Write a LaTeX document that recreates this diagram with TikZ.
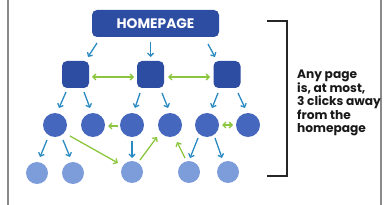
\documentclass[tikz,border=0pt]{standalone}
\usepackage{fontspec}
\setmainfont{Poppins}
\usetikzlibrary{arrows.meta,calc}
\definecolor{dblue}{HTML}{2C4DA2}
\definecolor{mblue}{HTML}{4567BD}
\definecolor{lblue}{HTML}{7C9CDA}
\definecolor{teal}{HTML}{2A8BC2}
\definecolor{lgreen}{HTML}{8CC63F}
\definecolor{bordergray}{HTML}{8A8A8A}
\tikzset{
  sq/.style={rectangle,rounded corners=5pt,fill=dblue,minimum size=27pt,inner sep=0pt},
  hpbox/.style={rectangle,rounded corners=5pt,fill=dblue,minimum width=127pt,minimum height=27pt,inner sep=0pt,text=white,font=\bfseries\fontsize{13.8}{16}\selectfont},
  cmid/.style={circle,fill=mblue,minimum size=24pt,inner sep=0pt},
  clow/.style={circle,fill=lblue,minimum size=22pt,inner sep=0pt},
  barr/.style={teal,line width=1.3pt,-{Straight Barb[length=3pt,width=6pt,line width=1.3pt]}},
  garr/.style={lgreen,line width=1.3pt,-{Straight Barb[length=3pt,width=6pt,line width=1.3pt]}},
  gdbl/.style={lgreen,line width=1.3pt,{Straight Barb[length=3pt,width=6pt,line width=1.3pt]}-{Straight Barb[length=3pt,width=6pt,line width=1.3pt]}},
  brk/.style={black!85,line width=1.5pt},
  edge/.style={bordergray,line width=1.2pt}
}
\begin{document}
\begin{tikzpicture}[x=1pt,y=-1pt]
\useasboundingbox (0,0) rectangle (390,205);
\draw[edge] (8,0) -- (8,205);
\draw[edge] (381,0) -- (381,205);
\node[hpbox] (hp) at (155.5,23.5) {HOMEPAGE};
\node[sq] (s1) at (75.5,74.5) {};
\node[sq] (s2) at (150.5,74.5) {};
\node[sq] (s3) at (227,74.5) {};
\node[cmid] (c1) at (55,125) {};
\node[cmid] (c2) at (93,125) {};
\node[cmid] (c3) at (132,125) {};
\node[cmid] (c4) at (170,125) {};
\node[cmid] (c5) at (207,125) {};
\node[cmid] (c6) at (248,125) {};
\node[clow] (d1) at (37,173) {};
\node[clow] (d2) at (73,173) {};
\node[clow] (d3) at (132,172) {};
\node[clow] (d4) at (189,172) {};
\node[clow] (d5) at (228,172) {};
% homepage to level 1
\draw[barr] ($(hp)+(-58.5,19.5)$) -- ($(s1)+(12.5,-17.5)$);
\draw[barr] ($(hp)+(-5,18.5)$) -- ($(s2)+(0,-17.5)$);
\draw[barr] ($(hp)+(52.5,20.5)$) -- ($(s3)+(-12,-17.5)$);
\draw[gdbl] ($(s1)+(16.5,2.5)$) -- ($(s2)+(-16.5,2.5)$);
\draw[gdbl] ($(s2)+(17.5,2.5)$) -- ($(s3)+(-17,2.5)$);
% level 1 to level 2
\draw[barr] ($(s1)+(-9.5,17.5)$) -- ($(c1)+(4,-17)$);
\draw[barr] ($(s1)+(8.5,17.5)$) -- ($(c2)+(-3,-17)$);
\draw[barr] ($(s2)+(-10.5,18.5)$) -- ($(c3)+(3,-17)$);
\draw[barr] ($(s2)+(11.5,18.5)$) -- ($(c4)+(-2,-17)$);
\draw[barr] ($(s3)+(-9,18.5)$) -- ($(c5)+(5,-17)$);
\draw[barr] ($(s3)+(11,18.5)$) -- ($(c6)+(-3,-17)$);
\draw[garr] ($(c3)+(-14,1)$) -- ($(c2)+(15,1)$);
\draw[gdbl] ($(c5)+(15,0)$) -- ($(c6)+(-15,0)$);
% level 2 to level 3
\draw[barr] ($(c1)+(-8,15)$) -- ($(d1)+(3,-16)$);
\draw[barr] ($(c1)+(8,15)$) -- ($(d2)+(-3,-16)$);
\draw[garr] ($(c1)+(15,11)$) -- ($(d3)+(-14,-9)$);
\draw[barr] ($(c3)+(0,16)$) -- ($(d3)+(0,-14)$);
\draw[garr] ($(d3)+(8,-12)$) -- ($(c4)+(-13,12)$);
\draw[garr] ($(d4)+(-4,-14)$) -- ($(c4)+(7,17)$);
\draw[barr] ($(c5)+(-9,13)$) -- ($(d4)+(1,-14)$);
\draw[barr] ($(c5)+(8,13)$) -- ($(d5)+(-6,-14)$);
% bracket and text
\coordinate (bt) at (267,21);
\coordinate (bb) at (267,176);
\draw[brk] (bt) -- ++(20,0) |- (bb);
\node[anchor=west,align=left,inner sep=0pt,font=\bfseries\fontsize{12.2}{13.5}\selectfont,text=black!90] (txt) at (297,103)
  {Any page\\is, at most,\\3 clicks away\\from the\\homepage};
\end{tikzpicture}
\end{document}
